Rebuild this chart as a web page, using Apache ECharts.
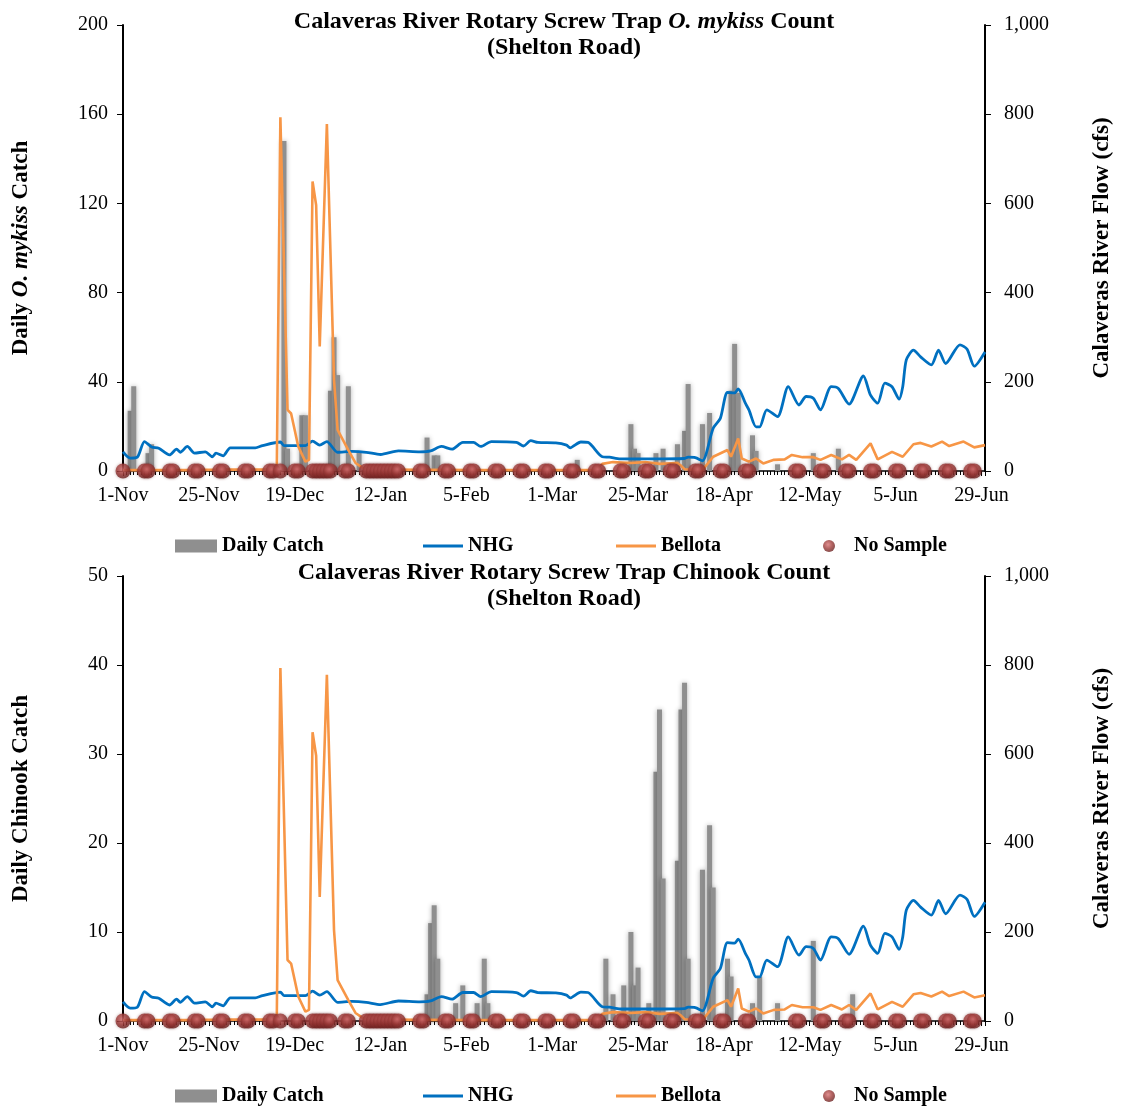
<!DOCTYPE html>
<html>
<head>
<meta charset="utf-8">
<script src="https://cdn.jsdelivr.net/npm/echarts@6/dist/echarts.min.js"></script>
<style>
  html, body { margin: 0; padding: 0; background: #fff; }
  #chart { width: 1122px; height: 1106px; }
</style>
</head>
<body>
<div id="chart"></div>
<script>
// day 0 = 1-Nov, one unit per day
const xLabels = ['1-Nov', '25-Nov', '19-Dec', '12-Jan', '5-Feb', '1-Mar', '25-Mar', '18-Apr', '12-May', '5-Jun', '29-Jun'];

// daily catch [day, count]
const catchMykiss = [
  [2, 27], [3, 38], [7, 8], [8, 12], [45, 148], [46, 10], [50, 25], [51, 25],
  [58, 36], [59, 60], [60, 43], [63, 38], [66, 9], [85, 15], [87, 7], [88, 7],
  [127, 5], [142, 21], [143, 10], [144, 8], [149, 8], [151, 10], [155, 12], [157, 18],
  [158, 39], [162, 21], [164, 26], [170, 36], [171, 57], [172, 35], [176, 16], [177, 9],
  [183, 3], [193, 8], [200, 10]
];
const catchChinook = [
  [85, 3], [86, 11], [87, 13], [88, 7], [93, 2], [95, 4], [99, 2], [101, 7], [102, 2],
  [135, 7], [137, 3], [140, 4], [142, 10], [143, 4], [144, 6], [147, 2], [149, 28],
  [150, 35], [151, 16], [155, 18], [156, 35], [157, 38], [158, 7], [162, 17], [164, 22],
  [165, 15], [169, 7], [170, 5], [176, 2], [178, 5], [183, 2], [193, 9], [204, 3]
];

// river flow (cfs) [day, cfs]
const nhgFlow = [
  [0, 43], [2, 29], [4, 31], [6, 66], [8, 54], [10, 51], [13, 36], [15, 49], [16, 42],
  [18, 55], [20, 40], [23, 43], [25, 32], [26, 40], [28, 34], [30, 52], [37, 52], [39, 57],
  [44, 65], [45, 57], [51, 57], [53, 67], [55, 58], [57, 66], [60, 42], [64, 44], [68, 42],
  [72, 37], [77, 45], [83, 43], [86, 45], [89, 55], [92, 49], [95, 64], [98, 64], [100, 55],
  [103, 66], [110, 64], [112, 56], [114, 68], [116, 64], [121, 63], [124, 58], [125, 52],
  [128, 65], [130, 64], [134, 32], [136, 31], [139, 27], [148, 27], [157, 28], [158, 31],
  [160, 30], [162, 23], [165, 96], [167, 118], [169, 176], [171, 175], [172, 184], [174, 152],
  [175, 137], [177, 99], [178, 99], [180, 137], [183, 122], [186, 189], [189, 148], [191, 167],
  [193, 163], [195, 137], [198, 189], [200, 185], [203, 150], [207, 213], [209, 170], [211, 152],
  [213, 197], [215, 189], [217, 161], [218, 189], [219, 249], [221, 271], [223, 256], [226, 238],
  [228, 271], [230, 241], [234, 283], [236, 273], [238, 235], [241, 267]
];
const bellotaFlow = [
  [0, 2], [10, 2], [20, 2], [26, 3], [27, 10], [28, 3], [42, 3], [43, 10], [44, 793],
  [46, 137], [47, 129], [49, 55], [51, 21], [52, 25], [53, 649], [54, 596], [55, 279],
  [57, 778], [59, 204], [60, 92], [63, 47], [65, 18], [67, 7], [70, 3], [100, 2], [132, 2],
  [134, 16], [137, 20], [142, 18], [146, 20], [150, 16], [155, 18], [156, 12], [157, 4],
  [162, 2], [165, 32], [169, 47], [170, 32], [172, 73], [173, 28], [175, 21], [177, 28],
  [179, 17], [182, 25], [185, 26], [187, 36], [190, 31], [193, 31], [195, 25], [198, 36],
  [201, 26], [203, 36], [205, 25], [209, 62], [211, 26], [215, 43], [218, 32], [221, 60],
  [223, 63], [226, 55], [229, 66], [231, 56], [235, 66], [238, 53], [241, 58]
];

// days the trap was not sampled
const noSampleDays = [
  0, 6, 7, 13, 14, 20, 21, 27, 28, 34, 35, 41, 42, 44, 48, 49, 53, 54, 55, 56, 57, 58,
  62, 63, 68, 69, 70, 71, 72, 73, 74, 75, 76, 77, 83, 84, 90, 91, 97, 98, 104, 105,
  111, 112, 118, 119, 125, 126, 132, 133, 139, 140, 146, 147, 153, 154, 160, 161,
  167, 168, 174, 175, 188, 189, 195, 196, 202, 203, 209, 210, 216, 217, 223, 224,
  230, 231, 237, 238
];

const FONT = 'Liberation Serif, Times New Roman, serif';
const chart = echarts.init(document.getElementById('chart'), null, { renderer: 'canvas' });

const boldRich = {
  b: { fontFamily: FONT, fontWeight: 'bold', fontSize: 24, color: '#000' },
  bi: { fontFamily: FONT, fontWeight: 'bold', fontStyle: 'italic', fontSize: 24, color: '#000' }
};
const nameRich = {
  b: { fontFamily: FONT, fontWeight: 'bold', fontSize: 23, color: '#000' },
  bi: { fontFamily: FONT, fontWeight: 'bold', fontStyle: 'italic', fontSize: 23, color: '#000' }
};

const markerColor = {
  type: 'radial', x: 0.42, y: 0.38, r: 0.65,
  colorStops: [
    { offset: 0, color: '#d87374' },
    { offset: 0.55, color: '#9c3a38' },
    { offset: 1, color: '#672120' }
  ]
};

function xAxisFor(gi) {
  return {
    gridIndex: gi, type: 'value', min: 0, max: 241, interval: 24,
    axisLine: { show: true, lineStyle: { color: '#000', width: 1.5 } },
    axisTick: { show: true, length: 5, lineStyle: { color: '#000' } },
    minorTick: { show: true, splitNumber: 24, length: 4, lineStyle: { color: '#000' } },
    splitLine: { show: false },
    minorSplitLine: { show: false },
    axisLabel: {
      margin: 15, fontFamily: FONT, fontSize: 20, color: '#000',
      showMaxLabel: false,
      formatter: v => (v % 24 === 0 ? xLabels[v / 24] : '')
    }
  };
}

function leftAxisFor(gi, max, interval, name) {
  return {
    gridIndex: gi, type: 'value', position: 'left', min: 0, max: max, interval: interval,
    name: name, nameLocation: 'middle', nameRotate: 90, nameGap: 90,
    nameTextStyle: { rich: nameRich },
    axisLine: { show: true, lineStyle: { color: '#000', width: 2 } },
    axisTick: { show: true, length: 6, lineStyle: { color: '#000' } },
    splitLine: { show: false },
    axisLabel: { margin: 15, fontFamily: FONT, fontSize: 20, color: '#000' }
  };
}

function rightAxisFor(gi) {
  return {
    gridIndex: gi, type: 'value', position: 'right', min: 0, max: 1000, interval: 200,
    name: '{b|Calaveras River Flow (cfs)}', nameLocation: 'middle', nameRotate: 90, nameGap: 106,
    nameTextStyle: { rich: nameRich },
    axisLine: { show: true, lineStyle: { color: '#000', width: 2 } },
    axisTick: { show: true, length: 6, lineStyle: { color: '#000' } },
    splitLine: { show: false },
    axisLabel: {
      margin: 19, fontFamily: FONT, fontSize: 20, color: '#000',
      formatter: v => v.toLocaleString('en-US')
    }
  };
}

function seriesFor(gi, catchData) {
  return [
    {
      name: 'Daily Catch', type: 'bar', xAxisIndex: gi, yAxisIndex: gi * 2,
      data: catchData, barWidth: 5,
      itemStyle: { color: '#8f8f8f', shadowBlur: 5, shadowColor: 'rgba(0,0,0,0.3)' },
      z: 2
    },
    {
      name: 'NHG', type: 'line', xAxisIndex: gi, yAxisIndex: gi * 2 + 1,
      data: nhgFlow, symbol: 'none', smooth: 0.25,
      lineStyle: { color: '#0070C0', width: 2.8 }, itemStyle: { color: '#0070C0' },
      z: 3
    },
    {
      name: 'Bellota', type: 'line', xAxisIndex: gi, yAxisIndex: gi * 2 + 1,
      data: bellotaFlow, symbol: 'none',
      lineStyle: { color: '#F79646', width: 2.6 }, itemStyle: { color: '#F79646' },
      z: 4
    },
    {
      name: 'No Sample', type: 'scatter', xAxisIndex: gi, yAxisIndex: gi * 2,
      data: noSampleDays.map(d => [d, 0]), symbol: 'circle', symbolSize: 15, clip: false,
      itemStyle: { color: markerColor, shadowBlur: 3, shadowColor: 'rgba(80,0,0,0.45)' },
      z: 5
    }
  ];
}

function legendsAt(top) {
  const base = {
    top: top, itemGap: 0, orient: 'horizontal',
    textStyle: { fontFamily: FONT, fontWeight: 'bold', fontSize: 20, color: '#000' },
    selectedMode: false
  };
  return [
    Object.assign({}, base, { left: 170, itemWidth: 42, itemHeight: 13, data: [{ name: 'Daily Catch', icon: 'rect' }] }),
    Object.assign({}, base, { left: 418, itemWidth: 40, itemHeight: 3, data: [{ name: 'NHG', icon: 'rect' }] }),
    Object.assign({}, base, { left: 611, itemWidth: 40, itemHeight: 3, data: [{ name: 'Bellota', icon: 'rect' }] }),
    Object.assign({}, base, { left: 818, itemWidth: 40, itemHeight: 12, data: [{ name: 'No Sample', icon: 'circle' }] })
  ];
}

const option = {
  backgroundColor: '#fff',
  animation: false,
  grid: [
    { left: 123, top: 25, width: 865, height: 446 },
    { left: 123, top: 576, width: 865, height: 445 }
  ],
  xAxis: [xAxisFor(0), xAxisFor(1)],
  yAxis: [
    leftAxisFor(0, 200, 40, '{b|Daily }{bi|O. mykiss}{b| Catch}'),
    rightAxisFor(0),
    leftAxisFor(1, 50, 10, '{b|Daily Chinook Catch}'),
    rightAxisFor(1)
  ],
  legend: legendsAt(531).concat(legendsAt(1081)),
  graphic: [
    {
      type: 'text', x: 564, y: 9, z: 10,
      style: {
        text: '{b|Calaveras River Rotary Screw Trap }{bi|O. mykiss}{b| Count}\n{b|(Shelton Road)}',
        rich: boldRich, align: 'center', verticalAlign: 'top', lineHeight: 26
      }
    },
    {
      type: 'text', x: 564, y: 560, z: 10,
      style: {
        text: '{b|Calaveras River Rotary Screw Trap Chinook Count}\n{b|(Shelton Road)}',
        rich: boldRich, align: 'center', verticalAlign: 'top', lineHeight: 26
      }
    }
  ],
  series: seriesFor(0, catchMykiss).concat(seriesFor(1, catchChinook))
};

chart.setOption(option);
</script>
</body>
</html>
